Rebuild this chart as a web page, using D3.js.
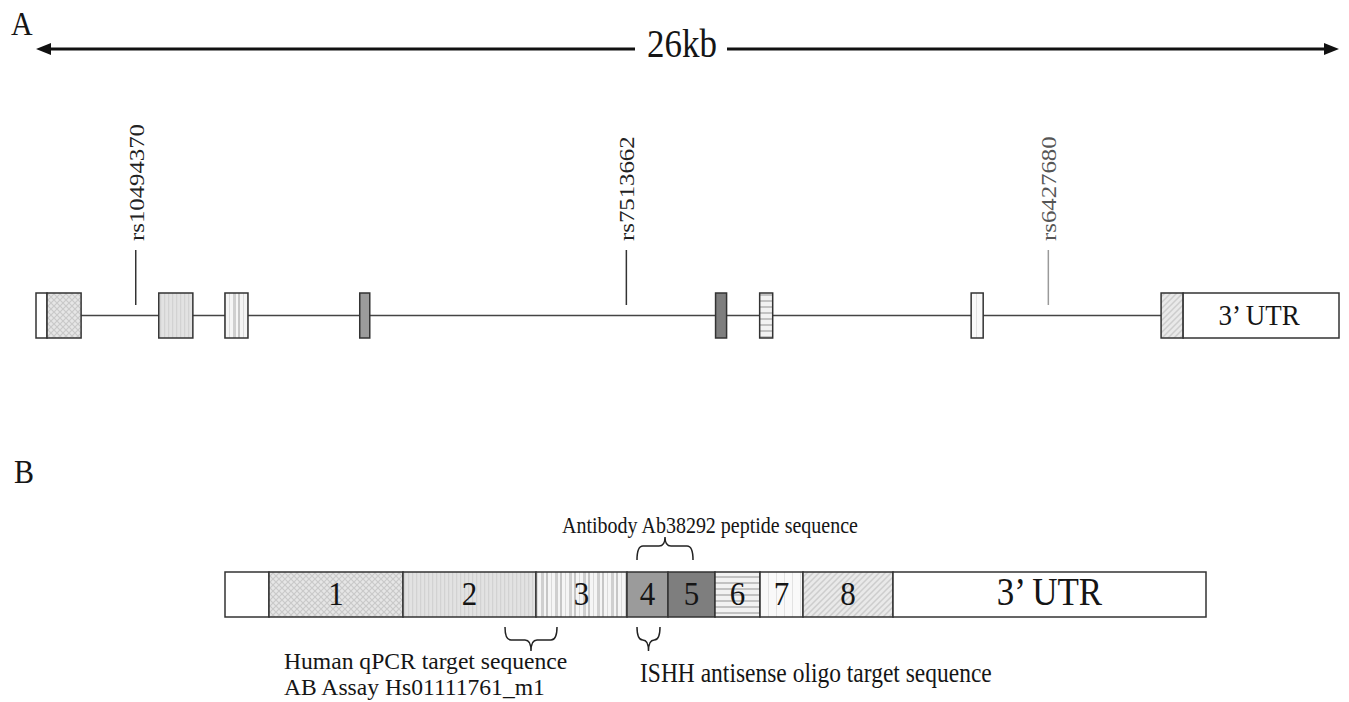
<!DOCTYPE html>
<meta charset="utf-8">
<script src="https://d3js.org/d3.v7.min.js"></script>
<style>
  body { margin: 0; background: #fff; }
  text { font-family: "Liberation Serif", "Times New Roman", serif; fill: #151515; }
</style>
<div id="gene_figure"></div>
<script>

  // ---- panel A : gene structure, positions in kb along the locus ----
  var locusKb    = [0, 26];
  var exonStart  = [0.22, 2.45, 3.77, 6.46, 13.56, 14.44, 18.66, 22.45];
  var exonEnd    = [0.90, 3.13, 4.23, 6.66, 13.78, 14.70, 18.90, 22.89];
  var exonFill   = ["p1", "p2", "p3", "p4", "p5", "p6", "p7", "p8"];
  var utr5       = [0, 0.22];
  var utr3       = [22.89, 26];
  var snpNames   = ["rs10494370", "rs7513662", "rs6427680"];
  var snpKb      = [1.99, 11.78, 20.20];

  // ---- panel B : mRNA segments (relative length units) ----
  var segLabels  = ["", "1", "2", "3", "4", "5", "6", "7", "8", "3\u2019 UTR"];
  var segLengths = [44, 134, 133, 91, 41, 47, 45, 43, 90, 313];
  var segFill    = ["white", "p1", "p2", "p3", "p4", "p5", "p6", "p7", "p8", "white"];
  var braceNames = ["Antibody Ab38292 peptide sequence", "Human qPCR target sequence", "ISHH antisense oligo target sequence"];
  var braceFrom  = [412, 280, 412];
  var braceTo    = [468, 332, 435];

  var W = 1349, H = 702;
  var svg = d3.select("#gene_figure").append("svg")
      .attr("width", W).attr("height", H);

  // patterns used for exon fills
  var defs = svg.append("defs");
  function pat(id, w, h, bg) {
    var p = defs.append("pattern").attr("id", id)
      .attr("patternUnits", "userSpaceOnUse").attr("width", w).attr("height", h);
    p.append("rect").attr("width", w).attr("height", h).attr("fill", bg);
    return p;
  }
  var p1 = pat("p1", 6, 6, "#e6e6e6");
  p1.append("path").attr("d", "M0,0L6,6M6,0L0,6").attr("stroke", "#c9c9c9").attr("stroke-width", 1.2);
  var p2 = pat("p2", 4, 4, "#e2e2e2");
  p2.append("rect").attr("width", 1.2).attr("height", 4).attr("fill", "#d2d2d2");
  var p3 = pat("p3", 14, 4, "#f5f5f5");
  p3.append("rect").attr("x", 0).attr("width", 2).attr("height", 4).attr("fill", "#c6c6c6");
  p3.append("rect").attr("x", 5).attr("width", 1).attr("height", 4).attr("fill", "#dadada");
  p3.append("rect").attr("x", 9).attr("width", 3).attr("height", 4).attr("fill", "#cfcfcf");
  pat("p4", 4, 4, "#9b9b9b");
  pat("p5", 4, 4, "#7e7e7e");
  var p6 = pat("p6", 4, 6, "#f2f2f2");
  p6.append("rect").attr("width", 4).attr("height", 2).attr("fill", "#c2c2c2");
  var p7 = pat("p7", 8, 4, "#f9f9f9");
  p7.append("rect").attr("width", 1).attr("height", 4).attr("fill", "#e2e2e2");
  var p8 = pat("p8", 6, 6, "#e9e9e9");
  p8.append("path").attr("d", "M0,6L6,0M-1,1L1,-1M5,7L7,5").attr("stroke", "#cdcdcd").attr("stroke-width", 1.5);

  function fillOf(f) { return f === "white" ? "#fff" : "url(#" + f + ")"; }

  // text helper, slightly taller than wide like the scanned figure
  function label(g, x, y, str, size, anchor, rot, sy) {
    var t = g.append("text")
      .attr("transform", "translate(" + x + "," + y + ") scale(1," + (sy || 1.12) + ")" + (rot ? " rotate(-90)" : ""))
      .attr("text-anchor", anchor || "start")
      .style("font-size", size + "px")
      .text(str);
    return t;
  }

  // ================= panel A =================
  var x = d3.scaleLinear().domain(locusKb).range([36, 1339]);
  var gA = svg.append("g");

  label(gA, 11, 35, "A", 30);

  // 26kb double arrow, broken around the label
  var arrowY = 49;
  label(gA, 682, 57, "26kb", 35, "middle");
  gA.append("line").attr("x1", x(0) + 10).attr("x2", 682 - 47)
    .attr("y1", arrowY).attr("y2", arrowY).attr("stroke", "#111").attr("stroke-width", 3);
  gA.append("line").attr("x1", 682 + 45).attr("x2", x(26) - 10)
    .attr("y1", arrowY).attr("y2", arrowY).attr("stroke", "#111").attr("stroke-width", 3);
  gA.append("path")
    .attr("d", "M" + x(0) + "," + arrowY + "l15,-6l0,12z")
    .attr("fill", "#111");
  gA.append("path")
    .attr("d", "M" + x(26) + "," + arrowY + "l-15,-6l0,12z")
    .attr("fill", "#111");

  // intron backbone
  var exTop = 293, exH = 45, midY = exTop + exH / 2;
  gA.append("line").attr("x1", x(utr5[1])).attr("x2", x(utr3[0]))
    .attr("y1", midY).attr("y2", midY).attr("stroke", "#444").attr("stroke-width", 1.5);

  // SNPs
  snpNames.forEach(function (name, i) {
    var col = i === 2 ? "#9a9a9a" : "#333";
    gA.append("line").attr("x1", x(snpKb[i])).attr("x2", x(snpKb[i]))
      .attr("y1", 250).attr("y2", 305).attr("stroke", col).attr("stroke-width", 1.5);
    label(gA, x(snpKb[i]) + 8, 241, name, 21, "start", true, 1.18)
      .style("fill", i === 2 ? "#555" : "#222");
  });

  // 5' UTR, exons and 3' UTR
  gA.append("rect").attr("x", x(utr5[0])).attr("width", x(utr5[1]) - x(utr5[0]))
    .attr("y", exTop).attr("height", exH).attr("fill", "#fff")
    .attr("stroke", "#333").attr("stroke-width", 1.5);
  gA.selectAll(".exon").data(exonStart).enter().append("rect")
    .attr("class", "exon")
    .attr("x", function (d) { return x(d); })
    .attr("width", function (d, i) { return x(exonEnd[i]) - x(d); })
    .attr("y", exTop).attr("height", exH)
    .attr("fill", function (d, i) { return fillOf(exonFill[i]); })
    .attr("stroke", "#333").attr("stroke-width", 1.5);
  gA.append("rect").attr("x", x(utr3[0])).attr("width", x(utr3[1]) - x(utr3[0]))
    .attr("y", exTop).attr("height", exH).attr("fill", "#fff")
    .attr("stroke", "#333").attr("stroke-width", 1.5);
  label(gA, (x(utr3[0]) + x(utr3[1])) / 2 - 2, midY + 9, "3\u2019 UTR", 27, "middle");

  // ================= panel B =================
  var gB = svg.append("g");
  label(gB, 14, 483, "B", 30);

  var total = d3.sum(segLengths);
  var cum = [0];
  segLengths.forEach(function (l, i) { cum.push(cum[i] + l); });
  var xb = d3.scaleLinear().domain([0, total]).range([225, 1206]);
  var barTop = 572, barH = 45;

  gB.selectAll(".seg").data(segLengths).enter().append("rect")
    .attr("class", "seg")
    .attr("x", function (d, i) { return xb(cum[i]); })
    .attr("width", function (d, i) { return xb(cum[i + 1]) - xb(cum[i]); })
    .attr("y", barTop).attr("height", barH)
    .attr("fill", function (d, i) { return fillOf(segFill[i]); })
    .attr("stroke", "#333").attr("stroke-width", 1.5);

  segLabels.forEach(function (s, i) {
    if (!s) return;
    var cx = (xb(cum[i]) + xb(cum[i + 1])) / 2;
    label(gB, cx, barTop + 33, s, i === 9 ? 35 : 31, "middle");
  });

  // curly brace between x1 and x2; yEnd = tips, yTip = cusp
  function brace(x1, x2, yEnd, yMid, yTip) {
    var xm = (x1 + x2) / 2, r = Math.min(6, (x2 - x1) / 4);
    return "M" + x1 + "," + yEnd +
      "Q" + x1 + "," + yMid + " " + (x1 + r) + "," + yMid +
      "L" + (xm - r) + "," + yMid +
      "Q" + xm + "," + yMid + " " + xm + "," + yTip +
      "Q" + xm + "," + yMid + " " + (xm + r) + "," + yMid +
      "L" + (x2 - r) + "," + yMid +
      "Q" + x2 + "," + yMid + " " + x2 + "," + yEnd;
  }

  // antibody brace above the bar
  gB.append("path").attr("d", brace(xb(braceFrom[0]), xb(braceTo[0]), 560, 546, 537))
    .attr("fill", "none").attr("stroke", "#222").attr("stroke-width", 1.5);
  label(gB, 710, 533, braceNames[0], 20, "middle");

  // qPCR brace below the bar
  gB.append("path").attr("d", brace(xb(braceFrom[1]), xb(braceTo[1]), 627, 640, 651))
    .attr("fill", "none").attr("stroke", "#222").attr("stroke-width", 1.5);
  label(gB, 284, 669, braceNames[1], 23.6, "start", false, 1);
  label(gB, 284, 695, "AB Assay Hs01111761_m1", 23.6, "start", false, 1);

  // ISHH brace below the bar
  gB.append("path").attr("d", brace(xb(braceFrom[2]), xb(braceTo[2]), 627, 640, 651))
    .attr("fill", "none").attr("stroke", "#222").attr("stroke-width", 1.5);
  label(gB, 640, 682, braceNames[2], 23.5, "start");

</script>
